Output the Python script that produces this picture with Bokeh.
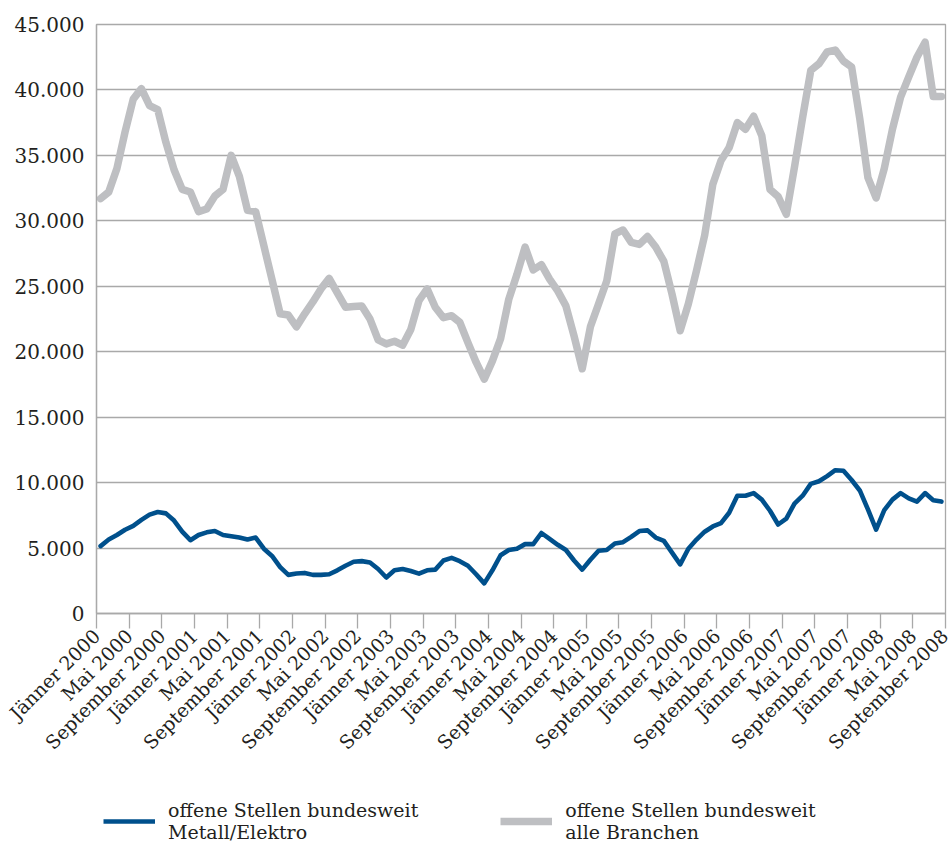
import math
import numpy as np
from bokeh.plotting import figure
from bokeh.layouts import column
from bokeh.models import ColumnDataSource, FixedTicker, Legend, LegendItem, Range1d
from bokeh.embed import file_html
from bokeh.resources import INLINE

# ---------------- data ----------------
month_names = ["Jänner", "Mai", "September"]
years = [2000, 2001, 2002, 2003, 2004, 2005, 2006, 2007, 2008]
x_tick_labels = [f"{m} {y}" for y in years for m in month_names]

y_tick_values = [0, 5000, 10000, 15000, 20000, 25000, 30000, 35000, 40000, 45000]
y_tick_labels = ["0", "5.000", "10.000", "15.000", "20.000", "25.000",
                 "30.000", "35.000", "40.000", "45.000"]

# offene Stellen bundesweit Metall/Elektro (monthly, Jänner 2000 - August 2008)
metall = [5150, 5650, 6000, 6400, 6700, 7150, 7550, 7750, 7650, 7100, 6250, 5600,
          6000, 6200, 6300, 6000, 5900, 5800, 5650, 5800, 4950, 4400, 3550, 2950,
          3050, 3100, 2950, 2950, 3000, 3300, 3650, 3950, 4000, 3900, 3400, 2750,
          3300, 3400, 3250, 3050, 3300, 3350, 4050, 4250, 4000, 3650, 3000, 2300,
          3300, 4450, 4850, 4950, 5300, 5300, 6150, 5700, 5250, 4850, 4050, 3350,
          4100, 4800, 4850, 5350, 5450, 5850, 6300, 6350, 5800, 5550, 4650, 3750,
          4950, 5650, 6250, 6650, 6900, 7700, 9000, 9000, 9200, 8700, 7850, 6800,
          7250, 8400, 9000, 9900, 10100, 10500, 10950, 10900, 10200, 9400, 7950, 6400,
          7900, 8700, 9200, 8800, 8550, 9200, 8650, 8550]

# offene Stellen bundesweit alle Branchen
alle = [31700, 32200, 34000, 36800, 39300, 40100, 38800, 38500, 36000, 33900, 32400, 32200,
        30700, 30900, 31900, 32400, 35000, 33400, 30800, 30700, 28100, 25500, 22900, 22800,
        21900, 22900, 23800, 24800, 25600, 24500, 23400, 23450, 23500, 22500, 20900, 20600,
        20800, 20500, 21700, 23900, 24800, 23400, 22600, 22750, 22250, 20700, 19200, 17900,
        19300, 21000, 24000, 25900, 28000, 26250, 26650, 25550, 24650, 23500, 21200, 18700,
        21900, 23650, 25400, 29000, 29300, 28350, 28200, 28800, 28000, 26900, 24400, 21600,
        23650, 26200, 28900, 32800, 34600, 35600, 37500, 37000, 38000, 36500, 32400, 31850,
        30500, 34100, 37900, 41500, 42000, 42900, 43050, 42200, 41750, 37800, 33300, 31750,
        34000, 37000, 39450, 41000, 42500, 43650, 39500, 39500]

series_names = ["offene Stellen bundesweit\nMetall/Elektro",
                "offene Stellen bundesweit\nalle Branchen"]
series_colors = ["#00508c", "#bebfc2"]
series_widths = [4.6, 7.5]

# ---------------- main figure ----------------
n = len(metall)
month_idx = np.arange(n) + 0.5          # category centres
source = ColumnDataSource(dict(x=month_idx, metall=metall, alle=alle))

FONT = "DejaVu Serif"
TXT = "#231f20"
GRID = "#a9a9a9"

p = figure(width=952, height=770, output_backend="svg", toolbar_location=None,
           x_range=Range1d(0, n), y_range=Range1d(0, 45000),
           min_border_left=96, min_border_right=7, min_border_top=24,
           min_border_bottom=157)
p.background_fill_color = "white"
p.border_fill_color = "white"
p.outline_line_color = GRID
p.outline_line_width = 1.3

p.line("x", "alle", source=source, line_color=series_colors[1], line_width=series_widths[1],
       line_join="round", line_cap="round")
p.line("x", "metall", source=source, line_color=series_colors[0], line_width=series_widths[0],
       line_join="round", line_cap="round")

# x axis
xticks = list(range(0, n + 1, 4))
p.xaxis.ticker = FixedTicker(ticks=xticks)
p.xaxis.major_label_overrides = {t: lab for t, lab in zip(xticks, x_tick_labels)}
p.xaxis.major_label_orientation = math.pi / 4
p.xaxis.major_label_text_font = FONT
p.xaxis.major_label_text_font_size = "19px"
p.xaxis.major_label_text_color = TXT
p.xaxis.major_label_standoff = 4
p.xaxis.major_tick_out = 15
p.xaxis.major_tick_in = 0
p.xaxis.minor_tick_line_color = None
p.xaxis.axis_line_color = GRID
p.xaxis.major_tick_line_color = GRID
p.xaxis.axis_line_width = 1.3
p.xaxis.major_tick_line_width = 1.3

# y axis
p.yaxis.ticker = FixedTicker(ticks=y_tick_values)
p.yaxis.major_label_overrides = {v: lab for v, lab in zip(y_tick_values, y_tick_labels)}
p.yaxis.major_label_text_font = FONT
p.yaxis.major_label_text_font_size = "20px"
p.yaxis.major_label_text_color = TXT
p.yaxis.major_label_standoff = 12
p.yaxis.major_tick_out = 0
p.yaxis.major_tick_in = 0
p.yaxis.minor_tick_line_color = None
p.yaxis.axis_line_color = GRID
p.yaxis.axis_line_width = 1.3

p.xgrid.visible = False
p.ygrid.ticker = FixedTicker(ticks=y_tick_values)
p.ygrid.grid_line_color = GRID
p.ygrid.grid_line_width = 1.3

# ---------------- legend strip ----------------
lg = figure(width=952, height=73, output_backend="svg", toolbar_location=None,
            x_range=Range1d(0, 1), y_range=Range1d(0, 1),
            x_axis_type=None, y_axis_type=None,
            min_border_left=0, min_border_right=0, min_border_top=0, min_border_bottom=0)
lg.outline_line_color = None
lg.grid.visible = False
# legend-only renderers (no visible data of their own)
dummy = [lg.line(x=[np.nan, np.nan], y=[np.nan, np.nan], line_color=c, line_width=w)
         for c, w in zip(series_colors, series_widths)]

legend = Legend(items=[LegendItem(label=name, renderers=[r], index=0)
                       for name, r in zip(series_names, dummy)],
                location=(7, 0), orientation="horizontal")
legend.label_text_font = FONT
legend.label_text_font_size = "19px"
legend.label_text_color = TXT
legend.glyph_width = 52
legend.glyph_height = 20
legend.label_standoff = 13
legend.spacing = 82
legend.padding = 0
legend.margin = 0
legend.border_line_color = None
legend.background_fill_alpha = 0
lg.add_layout(legend, "center")

layout = column(p, lg, spacing=0)
open("out.html", "w").write(file_html(layout, INLINE))
